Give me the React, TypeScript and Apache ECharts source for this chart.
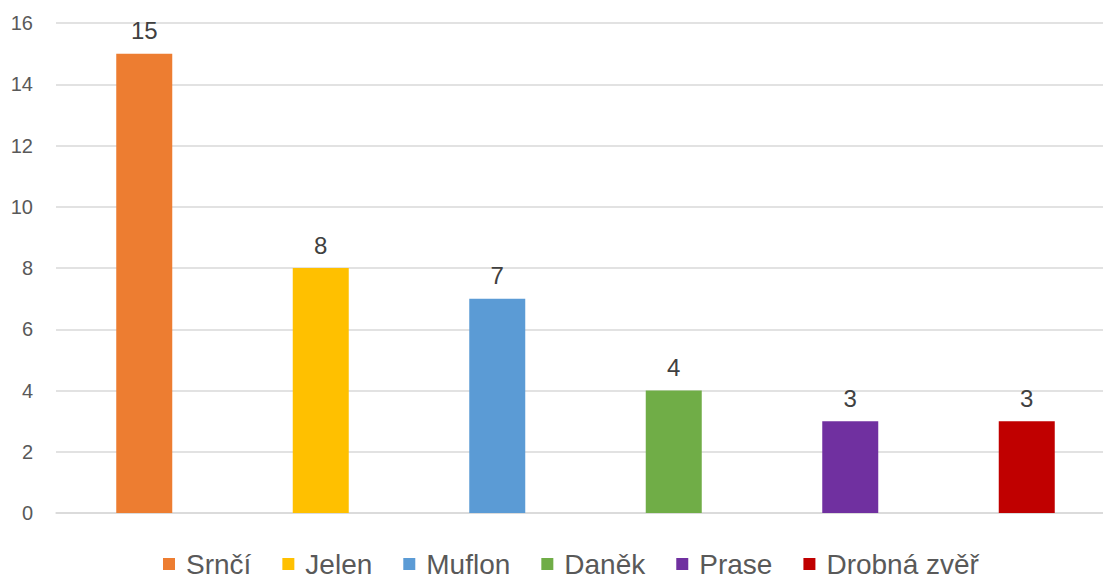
import React, { useEffect, useRef } from "react";
import * as echarts from "echarts";

const categories = ["Srnčí", "Jelen", "Muflon", "Daněk", "Prase", "Drobná zvěř"];
const values = [15, 8, 7, 4, 3, 3];
const colors = ["#ED7D31", "#FFC000", "#5B9BD5", "#70AD47", "#7030A0", "#C00000"];
const yTicks = { min: 0, max: 16, interval: 2 };

export default function App() {
  const ref = useRef<HTMLDivElement>(null);
  useEffect(() => {
    document.body.style.margin = "0";
    document.body.style.overflow = "hidden";
    document.documentElement.style.overflow = "hidden";
    const chart = echarts.init(ref.current!, null, { renderer: "svg" });
    const font = "'Liberation Sans', Arial, Helvetica, sans-serif";
    const series = categories.map((name, i) => ({
      name,
      type: "bar",
      stack: "all",
      barWidth: 56,
      data: values.map((v, j) => (j === i ? v : "-")),
      itemStyle: { color: colors[i] },
      label: {
        show: true,
        position: "top",
        distance: 11,
        fontSize: 24,
        color: "#404040",
        fontFamily: font,
      },
    }));
    chart.setOption({
      animation: false,
      textStyle: { fontFamily: font },
      grid: { left: 56, right: 0, top: 23, bottom: 65 },
      legend: {
        data: categories,
        top: 550,
        left: 163,
        padding: 0,
        icon: "rect",
        itemWidth: 12,
        itemHeight: 12,
        itemGap: 31,
        textStyle: {
          fontSize: 28,
          color: "#595959",
          fontFamily: font,
          padding: [0, 0, 0, 6],
        },
      },
      xAxis: {
        type: "category",
        data: categories,
        axisLine: { show: true, lineStyle: { color: "#d9d9d9", width: 1.5 } },
        axisTick: { show: false },
        axisLabel: { show: false },
      },
      yAxis: {
        type: "value",
        min: yTicks.min,
        max: yTicks.max,
        interval: yTicks.interval,
        axisLine: { show: false },
        axisTick: { show: false },
        axisLabel: { fontSize: 20, color: "#595959", margin: 23, fontFamily: font },
        splitLine: { lineStyle: { color: "#d9d9d9", width: 1.5 } },
      },
      series,
    });
    return () => chart.dispose();
  }, []);
  return <div ref={ref} style={{ width: 1115, height: 578 }} />;
}
